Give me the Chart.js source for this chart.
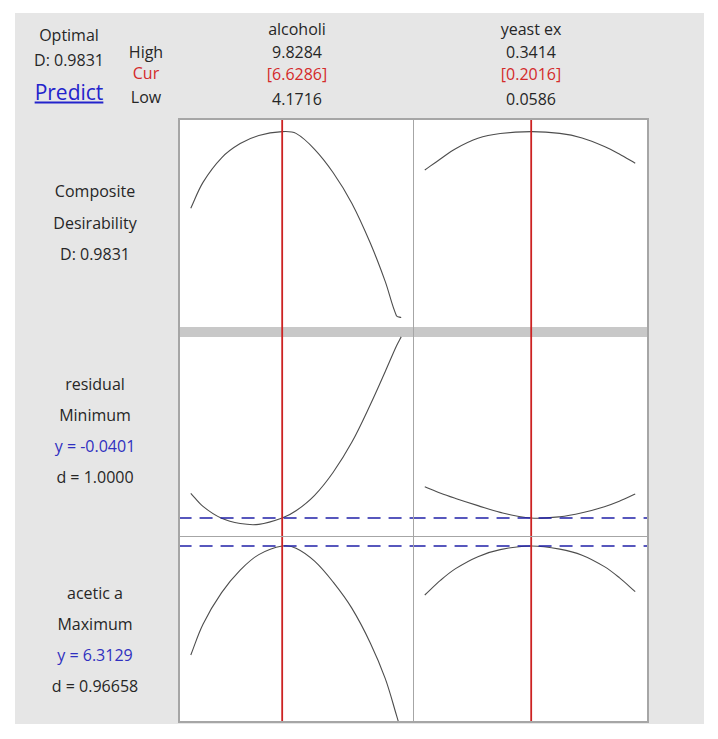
<!DOCTYPE html>
<html><head><meta charset="utf-8">
<script src="https://cdn.jsdelivr.net/npm/chart.js@4.4.1/dist/chart.umd.min.js"></script>
<style>
body{margin:0;background:#fff;width:718px;height:739px;position:relative;overflow:hidden;font-family:"Open Sans","Noto Sans",sans-serif;color:#262626}
#bg{position:absolute;left:15px;top:13px;width:689px;height:711px;background:#e6e6e6}
.t{position:absolute;font-size:16px;white-space:nowrap;transform:translate(-50%,-50%);line-height:1}
.cell{position:absolute;background:#fff}
.cell canvas{display:block}
.ln{position:absolute;background:#a6a6a6;z-index:5}
</style></head><body>
<div id="bg"></div>
<script>
// ---- data ----
const factors = ['alcoholi', 'yeast ex'];
const highs = [9.8284, 0.3414];
const curs = [6.6286, 0.2016];
const lows = [4.1716, 0.0586];

const alcX = [4.1716, 4.5, 5.0, 5.5, 6.0, 6.6286, 7.0, 7.5, 8.0, 8.5, 9.0, 9.4, 9.7, 9.8284];
const yeastX = [0.0586, 0.08, 0.10, 0.13, 0.16, 0.2016, 0.24, 0.27, 0.30, 0.32, 0.3414];

const compositeAlc = [0.578, 0.715, 0.845, 0.920, 0.963, 0.9831, 0.974, 0.890, 0.766, 0.605, 0.393, 0.190, 0.010, 0.0];
const compositeYeast = [0.780, 0.840, 0.893, 0.948, 0.973, 0.9831, 0.974, 0.950, 0.905, 0.865, 0.816];

const residualAlc = [0.022, -0.011, -0.041, -0.054, -0.056, -0.0401, -0.022, 0.017, 0.075, 0.150, 0.245, 0.328, 0.392, 0.415];
const residualYeast = [0.0386, 0.022, 0.009, -0.009, -0.026, -0.0401, -0.037, -0.027, -0.0117, 0.002, 0.0202];

const aceticAlc = [4.133, 4.75, 5.38, 5.83, 6.14, 6.3129, 6.27, 6.01, 5.59, 5.07, 4.37, 3.66, 2.93, 2.60];
const aceticYeast = [5.333, 5.63, 5.86, 6.10, 6.24, 6.3129, 6.25, 6.13, 5.90, 5.68, 5.40];

const responses = ['Composite', 'residual', 'acetic a'];
const goals = ['Desirability', 'Minimum', 'Maximum'];
const yValues = [null, -0.0401, 6.3129];
const dValues = ['0.9831', '1.0000', '0.96658'];
const yRanges = [[-0.05, 1.05], [-0.0853, 0.4398], [2.7729, 6.5129]];

// ---- layout ----
const colX = [179, 413], colW = 234;
const rowY = [119, 327, 536], rowH = [208, 209, 187];
const padFrac = 0.056;

function text(str, x, y, opts) {
  const d = document.createElement('div');
  d.className = 't';
  d.textContent = str;
  d.style.left = x + 'px'; d.style.top = y + 'px';
  if (opts) Object.assign(d.style, opts);
  document.body.appendChild(d);
}
const RED = '#d42a2a', BLUE = '#3030c0';

text('Optimal', 69, 35);
text('D: 0.9831', 69, 60);
text('Predict', 69, 92, {fontSize: '21px', color: '#2323cc', textDecoration: 'underline'});
text('High', 146, 52);
text('Cur', 146, 73, {color: RED});
text('Low', 146, 97);
const colCenter = [297, 531];
for (let c = 0; c < 2; c++) {
  const dec = 4;
  text(factors[c], colCenter[c], 29);
  text(highs[c].toFixed(dec), colCenter[c], 52);
  text('[' + curs[c].toFixed(dec) + ']', colCenter[c], 74, {color: RED});
  text(lows[c].toFixed(dec), colCenter[c], 99);
}
text(responses[0], 95, 191); text(goals[0], 95, 223); text('D: ' + dValues[0], 95, 254);
text(responses[1], 95, 384); text(goals[1], 95, 415);
text('y = ' + yValues[1].toFixed(4), 95, 446, {color: BLUE}); text('d = ' + dValues[1], 95, 477);
text(responses[2], 95, 593); text(goals[2], 95, 624);
text('y = ' + yValues[2].toFixed(4), 95, 655, {color: BLUE}); text('d = ' + dValues[2], 95, 686);

function line(x, y, w, h) {
  const d = document.createElement('div');
  d.className = 'ln';
  Object.assign(d.style, {left: x + 'px', top: y + 'px', width: w + 'px', height: h + 'px'});
  document.body.appendChild(d);
}

const bandPlugin = {
  id: 'band',
  beforeDatasetsDraw(chart, args, opts) {
    if (!opts.on) return;
    const a = chart.chartArea, ctx = chart.ctx;
    ctx.save(); ctx.fillStyle = '#c8c8c8';
    ctx.fillRect(a.left, a.top, a.right - a.left, 10);
    ctx.restore();
  }
};

const xs = [alcX, yeastX];
const ys = [[compositeAlc, compositeYeast], [residualAlc, residualYeast], [aceticAlc, aceticYeast]];

for (let r = 0; r < 3; r++) {
  for (let c = 0; c < 2; c++) {
    const div = document.createElement('div');
    div.className = 'cell';
    Object.assign(div.style, {left: colX[c] + 'px', top: rowY[r] + 'px', width: colW + 'px', height: rowH[r] + 'px'});
    const cv = document.createElement('canvas');
    cv.width = colW; cv.height = rowH[r];
    div.appendChild(cv);
    document.body.appendChild(div);
    const span = highs[c] - lows[c];
    const xmin = lows[c] - span * padFrac, xmax = highs[c] + span * padFrac;
    const [ymin, ymax] = yRanges[r];
    const datasets = [
      {data: xs[c].map((x, i) => ({x, y: ys[r][c][i]})), showLine: true, borderColor: '#4d4d4d', borderWidth: 1.1,
       pointRadius: 0, tension: 0.35, order: 3},
      {data: [{x: curs[c], y: ymin - 1}, {x: curs[c], y: ymax + 1}], showLine: true, borderColor: '#cc2222', borderWidth: 1.8,
       pointRadius: 0, order: 0}
    ];
    if (yValues[r] !== null) {
      datasets.push({data: [{x: xmin - span, y: yValues[r]}, {x: xmax + span, y: yValues[r]}], showLine: true,
        borderColor: '#2020a8', borderWidth: 1.5, borderDash: [13, 8], pointRadius: 0, order: 1});
    }
    new Chart(cv, {
      type: 'scatter',
      data: {datasets},
      options: {
        responsive: false, animation: false, devicePixelRatio: 1,
        layout: {padding: 0},
        scales: {
          x: {type: 'linear', min: xmin, max: xmax, display: false},
          y: {type: 'linear', min: ymin, max: ymax, display: false}
        },
        plugins: {legend: {display: false}, tooltip: {enabled: false}, band: {on: r === 1}},
        clip: 0
      },
      plugins: [bandPlugin]
    });
  }
}
// borders
line(178, 118, 471, 2);   // top
line(178, 721, 471, 2);   // bottom
line(178, 118, 2, 605);   // left
line(647, 118, 2, 605);   // right
line(413, 119, 1, 603);   // column divider
line(179, 536, 469, 1);   // row divider
</script>
</body></html>
